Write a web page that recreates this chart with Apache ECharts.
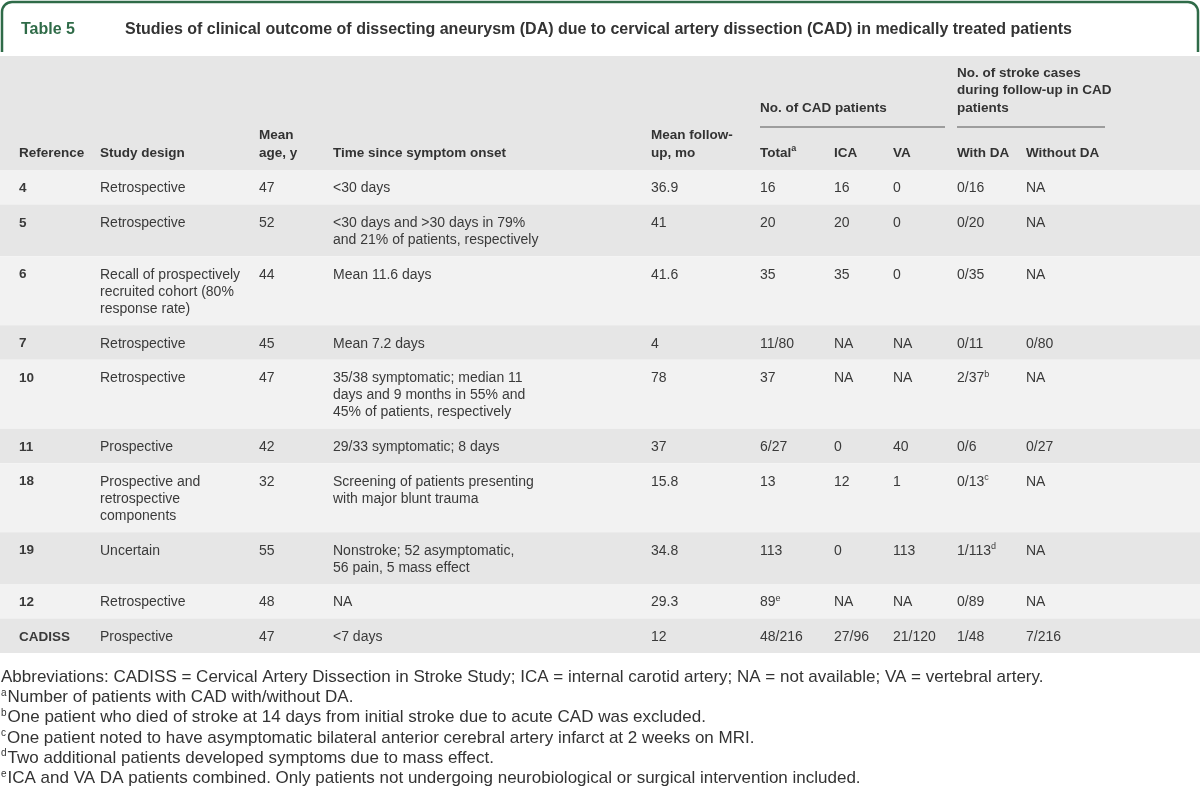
<!DOCTYPE html>
<html>
<head>
<meta charset="utf-8">
<script src="https://cdn.jsdelivr.net/npm/echarts@6/dist/echarts.min.js"></script>
<style>html,body{margin:0;padding:0;background:#fff}#c{width:1200px;height:804px}</style>
</head>
<body>
<div id="c"></div>
<script>
// ---------- DATA ----------
const tableLabel = 'Table 5';
const tableTitle = 'Studies of clinical outcome of dissecting aneurysm (DA) due to cervical artery dissection (CAD) in medically treated patients';

const headers = ['Reference', 'Study design', 'Mean\nage, y', 'Time since symptom onset', 'Mean follow-\nup, mo',
  'Total{sup|a}', 'ICA', 'VA', 'With DA', 'Without DA'];
const groupHeaders = ['No. of CAD patients', 'No. of stroke cases\nduring follow-up in CAD\npatients'];

const refs = ['4', '5', '6', '7', '10', '11', '18', '19', '12', 'CADISS'];
const design = ['Retrospective', 'Retrospective', 'Recall of prospectively\nrecruited cohort (80%\nresponse rate)',
  'Retrospective', 'Retrospective', 'Prospective', 'Prospective and\nretrospective\ncomponents', 'Uncertain',
  'Retrospective', 'Prospective'];
const meanAge = ['47', '52', '44', '45', '47', '42', '32', '55', '48', '47'];
const timeSince = ['<30 days', '<30 days and >30 days in 79%\nand 21% of patients, respectively', 'Mean 11.6 days',
  'Mean 7.2 days', '35/38 symptomatic; median 11\ndays and 9 months in 55% and\n45% of patients, respectively',
  '29/33 symptomatic; 8 days', 'Screening of patients presenting\nwith major blunt trauma',
  'Nonstroke; 52 asymptomatic,\n56 pain, 5 mass effect', 'NA', '<7 days'];
const followUp = ['36.9', '41', '41.6', '4', '78', '37', '15.8', '34.8', '29.3', '12'];
const totalCAD = ['16', '20', '35', '11/80', '37', '6/27', '13', '113', '89{sup|e}', '48/216'];
const icaCAD = ['16', '20', '35', 'NA', 'NA', '0', '12', '0', 'NA', '27/96'];
const vaCAD = ['0', '0', '0', 'NA', 'NA', '40', '1', '113', 'NA', '21/120'];
const withDA = ['0/16', '0/20', '0/35', '0/11', '2/37{sup|b}', '0/6', '0/13{sup|c}', '1/113{sup|d}', '0/89', '1/48'];
const withoutDA = ['NA', 'NA', 'NA', '0/80', 'NA', '0/27', 'NA', 'NA', 'NA', '7/216'];

const footnotes = [
  'Abbreviations: CADISS = Cervical Artery Dissection in Stroke Study; ICA = internal carotid artery; NA = not available; VA = vertebral artery.',
  '{s|a}Number of patients with CAD with/without DA.',
  '{s|b}One patient who died of stroke at 14 days from initial stroke due to acute CAD was excluded.',
  '{s|c}One patient noted to have asymptomatic bilateral anterior cerebral artery infarct at 2 weeks on MRI.',
  '{s|d}Two additional patients developed symptoms due to mass effect.',
  '{s|e}ICA and VA DA patients combined. Only patients not undergoing neurobiological or surgical intervention included.'
];

// ---------- LAYOUT ----------
const FONT = '"Liberation Sans", Arial, sans-serif';
const colX = [19, 100, 259, 333, 651, 760, 834, 893, 957, 1026];
const columns = [refs, design, meanAge, timeSince, followUp, totalCAD, icaCAD, vaCAD, withDA, withoutDA];
const BODY_TOP = 170, LINE = 17, ROW_UNIT = 17.25;
const shadeA = '#f2f2f2', shadeB = '#e6e6e6';
const textColor = '#3a3a3a';

const rowData = [];
let y = BODY_TOP;
refs.forEach((r, i) => {
  let lines = 1;
  columns.forEach(col => { lines = Math.max(lines, String(col[i]).split('\n').length); });
  const h = ROW_UNIT * (lines + 1);
  rowData.push([i, y, h]);
  y += h;
});

const supRich = { sup: { fontSize: 9, verticalAlign: 'top', lineHeight: 12, fill: textColor, fontFamily: FONT } };

function renderItem(params, api) {
  const i = api.value(0), top = api.value(1), h = api.value(2);
  const p0 = api.coord([0, top]);
  const p1 = api.coord([1200, top + h]);
  const children = [{
    type: 'rect',
    shape: { x: p0[0], y: p0[1], width: p1[0] - p0[0], height: p1[1] - p0[1] },
    style: { fill: i % 2 === 0 ? shadeA : shadeB }
  }];
  columns.forEach((col, c) => {
    const pt = api.coord([colX[c], top + 10]);
    children.push({
      type: 'text',
      x: pt[0], y: pt[1],
      style: {
        text: col[i],
        fontFamily: FONT,
        fontSize: c === 0 ? 13.5 : 14,
        fontWeight: c === 0 ? 'bold' : 'normal',
        fill: textColor,
        lineHeight: LINE,
        verticalAlign: 'top',
        align: 'left',
        rich: supRich
      }
    });
  });
  return { type: 'group', children };
}

// ---------- GRAPHIC (title, header, footnotes) ----------
const graphic = [];
graphic.push({
  type: 'rect',
  shape: { x: 2, y: 2, width: 1196, height: 70, r: [10, 10, 0, 0] },
  style: { fill: '#fff', stroke: '#2f6b48', lineWidth: 2.5 }
});
graphic.push({ type: 'text', x: 21, y: 30, style: { text: tableLabel, fontFamily: FONT, fontSize: 16, fontWeight: 'bold', fill: '#2f6b48', verticalAlign: 'middle' } });
graphic.push({ type: 'text', x: 125, y: 30, style: { text: tableTitle, fontFamily: FONT, fontSize: 16, fontWeight: 'bold', fill: '#333', verticalAlign: 'middle' } });
graphic.push({ type: 'rect', shape: { x: 0, y: 52, width: 1200, height: 4 }, style: { fill: '#fff' } });
graphic.push({ type: 'rect', shape: { x: 0, y: 56, width: 1200, height: BODY_TOP - 56 }, style: { fill: '#e6e6e6' } });

const HL = 18;
headers.forEach((hd, c) => {
  const n = hd.split('\n').length;
  graphic.push({
    type: 'text', x: colX[c], y: 153 - (n - 0.5) * HL, z: 10,
    style: { text: hd, fontFamily: FONT, fontSize: 13.5, fontWeight: 'bold', fill: '#333', lineHeight: HL, verticalAlign: 'top',
      rich: { sup: { fontSize: 9, verticalAlign: 'top', lineHeight: 12, fill: '#333', fontWeight: 'bold', fontFamily: FONT } } }
  });
});
const groupX = [[760, 945], [957, 1105]];
const GL = 17.5;
groupHeaders.forEach((g, k) => {
  const n = g.split('\n').length;
  graphic.push({
    type: 'text', x: groupX[k][0], y: 108 - (n - 0.5) * GL, z: 10,
    style: { text: g, fontFamily: FONT, fontSize: 13.5, fontWeight: 'bold', fill: '#333', lineHeight: GL, verticalAlign: 'top' }
  });
  graphic.push({ type: 'line', z: 10, shape: { x1: groupX[k][0], y1: 127, x2: groupX[k][1], y2: 127 }, style: { stroke: '#555', lineWidth: 1 } });
});

footnotes.forEach((f, k) => {
  graphic.push({
    type: 'text', x: 1, y: 677 + k * 20.3,
    style: { text: f, fontFamily: FONT, fontSize: 17, fill: '#333', verticalAlign: 'middle', lineHeight: 19,
      rich: { s: { fontSize: 10, verticalAlign: 'top', lineHeight: 15, fill: '#333', fontFamily: FONT, padding: [0, 1, 0, 0] } } }
  });
});

const chart = echarts.init(document.getElementById('c'), null, { renderer: 'canvas' });
chart.setOption({
  animation: false,
  backgroundColor: '#fff',
  grid: { left: 0, right: 0, top: 0, bottom: 0 },
  xAxis: { type: 'value', min: 0, max: 1200, show: false },
  yAxis: { type: 'value', min: 0, max: 804, inverse: true, show: false },
  graphic: graphic,
  series: [{ type: 'custom', renderItem: renderItem, data: rowData, silent: true, clip: false }]
});
</script>
</body>
</html>
